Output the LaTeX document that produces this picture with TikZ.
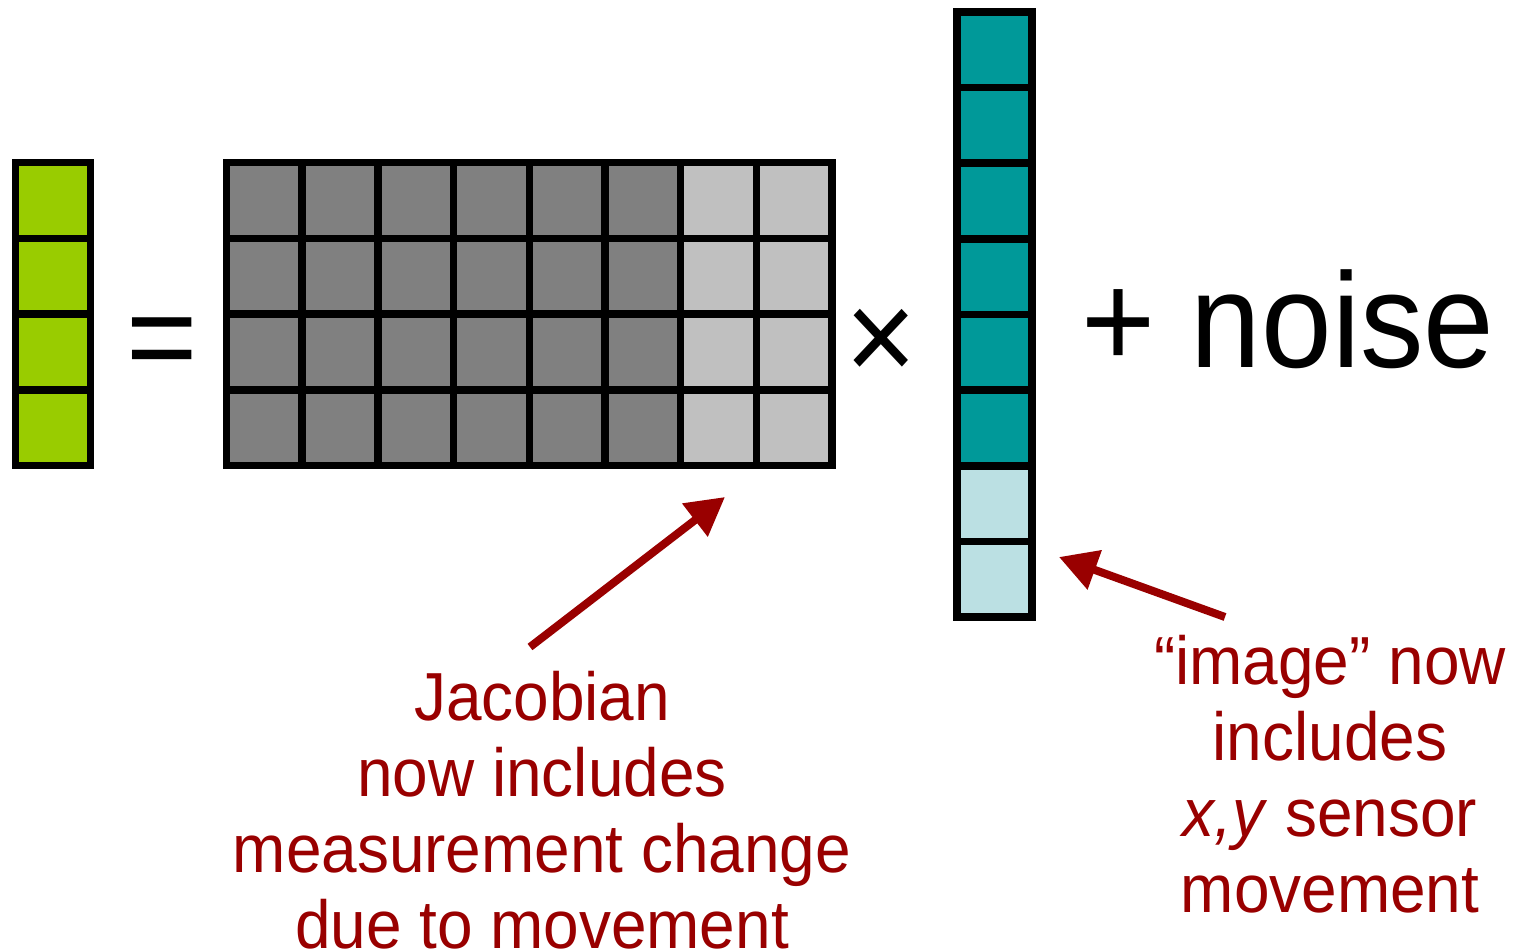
\documentclass[tikz,border=0pt]{standalone}
\usepackage{fontspec}
\setmainfont{Liberation Sans}[FakeStretch=0.94]
\usetikzlibrary{arrows.meta}
\definecolor{vgreen}{HTML}{99CC00}
\definecolor{dgray}{HTML}{808080}
\definecolor{lgray}{HTML}{C0C0C0}
\definecolor{teal2}{HTML}{009999}
\definecolor{lteal}{HTML}{BBE0E3}
\definecolor{vred}{HTML}{990000}
\begin{document}
\begin{tikzpicture}[x=1pt,y=-1pt,
  cellbox/.style={line width=7.5pt, draw=black},
  bigsym/.style={font=\fontsize{130}{130}\selectfont, inner sep=0pt, anchor=base},
  lbl/.style={font=\fontsize{68}{76}\selectfont, text=vred, align=center, inner sep=0pt, anchor=base},
  arr/.style={draw=vred, line width=8pt, -{Triangle[length=38pt,width=40pt]}}]
\useasboundingbox (0,0) rectangle (1515,952);
% left vector
\foreach \i in {0,...,3}
  \filldraw[cellbox, fill=vgreen] (15.5,{162.5+\i*75.75}) rectangle ++(75,75.75);
% matrix
\foreach \j in {0,...,7}{
  \ifnum\j<6 \def\cc{dgray}\else\def\cc{lgray}\fi
  \foreach \i in {0,...,3}
    \filldraw[cellbox, fill=\cc] ({226.5+\j*75.69},{162.5+\i*75.75}) rectangle ++(75.69,75.75);
}
% right vector
\foreach \i in {0,...,7}{
  \ifnum\i<6 \def\cc{teal2}\else\def\cc{lteal}\fi
  \filldraw[cellbox, fill=\cc] (957,{12+\i*75.625}) rectangle ++(75,75.625);
}
% symbols
\node[bigsym] (eq) at (162.5,381) {=};
\node[bigsym] (times) at (881.5,381) {×};
\node[bigsym, font=\fontsize{135}{135}\selectfont] (noise) at (1288,367) {+ noise};
% labels
\node[lbl] (jac) at (542,948) {Jacobian\\now includes\\measurement change\\due to movement};
\node[lbl] (img) at (1330,912) {“image” now\\includes\\\textit{x,y} sensor\\movement};
% arrows
\coordinate (a1s) at (530,647);
\coordinate (a1e) at (725,497);
\coordinate (a2s) at (1225,617);
\coordinate (a2e) at (1059,557);
\draw[arr] (a1s) -- (a1e);
\draw[arr] (a2s) -- (a2e);
\end{tikzpicture}
\end{document}
